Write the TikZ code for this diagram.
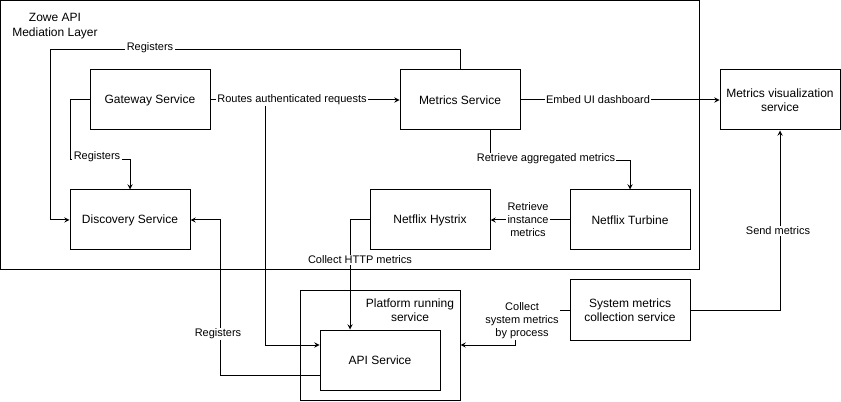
\documentclass[tikz,border=0pt]{standalone}
\usepackage{fontspec}
\setmainfont{Liberation Sans}
\usetikzlibrary{positioning}
\begin{document}
\begin{tikzpicture}[x=.75pt, y=-.75pt, line width=.75pt, >=stealth,
	box/.style={draw, minimum width=90pt, minimum height=45pt, align=center, font=\fontsize{9}{10.5}\selectfont},
	group/.style={draw, inner sep=0pt},
	lbl/.style={fill=white, inner sep=1pt, align=center, font=\fontsize{8.25}{9.75}\selectfont}]
			\useasboundingbox (0,0) rectangle (841,402);
			% containers
			\node[group, minimum width=524.6pt, minimum height=202.1pt] (zowe) at (350.25,135.25) {};
			\node[align=center, font=\fontsize{9}{11}\selectfont] (zowelbl) at (55,26) {Zowe API\\Mediation Layer};
			\node[group, minimum width=120pt, minimum height=82.5pt] (plat) at (380,345) {};
			\node[align=center, font=\fontsize{9}{10.5}\selectfont] (platlbl) at (410,310) {Platform running\\service};
			% services
			\node[box] (gw) at (150,100) {Gateway Service};
			\node[box] (ms) at (460,100) {Metrics Service};
			\node[box] (viz) at (780,100) {Metrics visualization\\service};
			\node[box] (disc) at (130,220) {Discovery Service};
			\node[box] (hyst) at (430,220) {Netflix Hystrix};
			\node[box] (turb) at (630,220) {Netflix Turbine};
			\node[box] (api) at (380,360) {API Service};
			\node[box] (sysm) at (630,310) {System metrics\\collection service};
			% connectors
			\draw[->] (ms.north) |- (50,50) |- (disc.west);
			\draw[->] (gw.west) -| (70,160) -| (disc.north);
			\draw[->] (gw.east) -- (ms.west);
			\draw[->] (gw.east) -- (265,100) |- ([yshift=11.25pt]api.west);
			\draw[->] (ms.east) -- (viz.west);
			\draw[->] ([xshift=22.5pt]ms.south) -- ++(0,30) -| (turb.north);
			\draw[->] (turb.west) -- (hyst.east);
			\draw[->] (hyst.west) -| ([xshift=-22.5pt]api.north);
			\draw[->] ([yshift=-11.25pt]api.west) -- (220,375) |- (disc.east);
			\draw[->] (sysm.west) -- (515,310) |- (plat.east);
			\draw[->] (sysm.east) -| (viz.south);
			% connector labels
			\node[lbl] (reg1) at (150,48) {Registers};
			\node[lbl] (reg2) at (97,157) {Registers};
			\node[lbl] (routes) at (292,100) {Routes authenticated requests};
			\node[lbl] (embed) at (598,100) {Embed UI dashboard};
			\node[lbl] (aggr) at (546,159) {Retrieve aggregated metrics};
			\node[lbl] (inst) at (528,220) {Retrieve\\instance\\metrics};
			\node[lbl] (http) at (360,260) {Collect HTTP metrics};
			\node[lbl] (reg3) at (218,334) {Registers};
			\node[lbl] (sysc) at (522,321) {Collect\\system metrics\\by process};
			\node[lbl] (send) at (778,231) {Send metrics};
			\end{tikzpicture}
\end{document}
